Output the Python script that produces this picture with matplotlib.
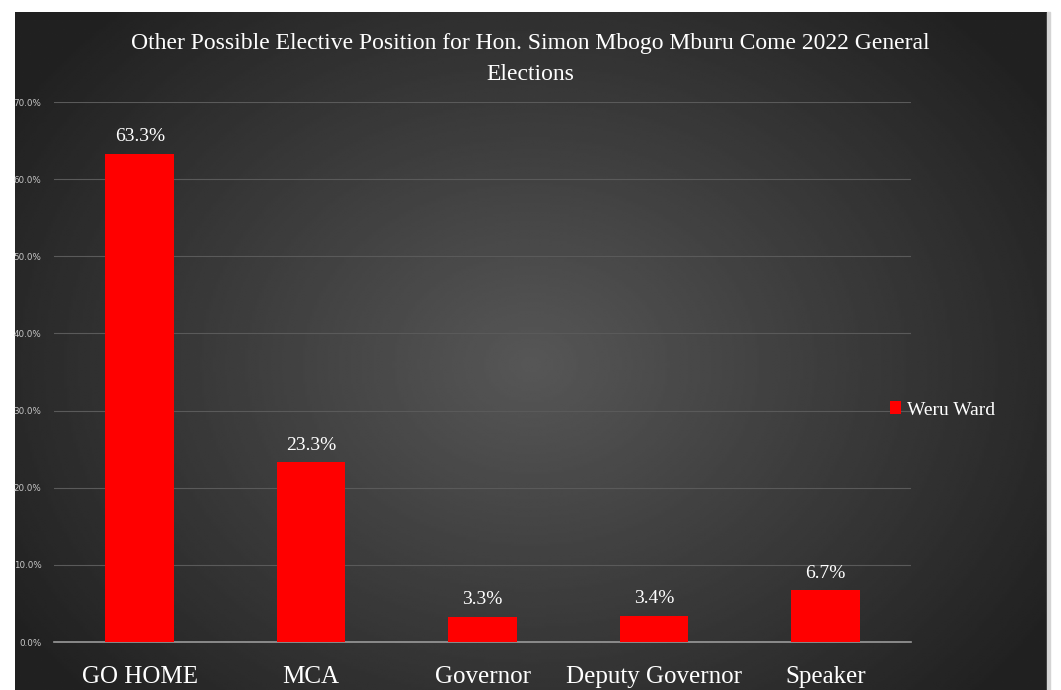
import numpy as np
import matplotlib.pyplot as plt
from matplotlib.patches import Rectangle

categories = ["GO HOME", "MCA", "Governor", "Deputy Governor", "Speaker"]
values = [63.3, 23.3, 3.3, 3.4, 6.7]
series_name = "Weru Ward"
title = "Other Possible Elective Position for Hon. Simon Mbogo Mburu Come 2022 General\nElections"

W, H = 1061, 690
fig = plt.figure(figsize=(W / 100, H / 100), dpi=100)
fig.patch.set_facecolor("white")

# dark radial-gradient chart background
bg = fig.add_axes([15 / W, 0, (1047 - 15) / W, (H - 12) / H])
yy, xx = np.mgrid[0:1:300j, 0:1:450j]
r = np.sqrt(((xx - 0.5) / 0.62) ** 2 + ((yy - 0.52) / 0.75) ** 2)
shade = np.clip(0.34 - 0.22 * r, 0.13, 0.34)
bg.imshow(shade, cmap="gray", vmin=0, vmax=1, aspect="auto",
          extent=[0, 1, 0, 1], interpolation="bilinear")
bg.axis("off")
fig.add_artist(Rectangle((1047 / W, 0), 3 / W, (H - 12) / H,
                         transform=fig.transFigure, color="#d4d4d4"))

ax = fig.add_axes([54 / W, 1 - 642 / H, (911 - 54) / W, (642 - 102) / H])
ax.set_facecolor("none")
x = np.arange(len(categories))
bars = ax.bar(x, values, width=0.4, color="#ff0000", label=series_name, zorder=3)
ax.set_xlim(-0.5, len(categories) - 0.5)
ax.set_ylim(0, 70)
ax.set_yticks(np.arange(0, 71, 10))
ax.set_yticklabels([f"{v:.1f}%" for v in np.arange(0, 71, 10)],
                   fontsize=6.3, color="#c8c8c8", family="DejaVu Sans")
ax.tick_params(axis="y", length=0, pad=9)
ax.tick_params(axis="x", length=0, pad=17)
ax.set_xticks(x)
ax.set_xticklabels(categories, fontsize=18, color="white", family="Liberation Serif")
ax.grid(axis="y", color="#5a5a5a", linewidth=0.8, zorder=0)
for s in ["top", "right", "left"]:
    ax.spines[s].set_visible(False)
ax.spines["bottom"].set_color("#9a9a9a")
ax.spines["bottom"].set_linewidth(1.2)

for xi, v in zip(x, values):
    ax.annotate(f"{v:.1f}%", (xi, v), xytext=(0, 6), textcoords="offset points",
                ha="center", va="bottom", fontsize=14, color="white",
                family="Liberation Serif")

fig.text(530 / W, 1 - 59 / H, title, ha="center", va="center", fontsize=17,
         color="white", family="Liberation Serif", linespacing=1.6)

leg = fig.legend(handles=[bars], labels=[series_name], loc="center left",
                 bbox_to_anchor=(872 / W, 1 - 410 / H), frameon=False,
                 prop={"family": "Liberation Serif", "size": 14},
                 handlelength=0.6, handleheight=0.6, handletextpad=0.3)
for t in leg.get_texts():
    t.set_color("white")

fig.savefig("out.png", dpi=100)
